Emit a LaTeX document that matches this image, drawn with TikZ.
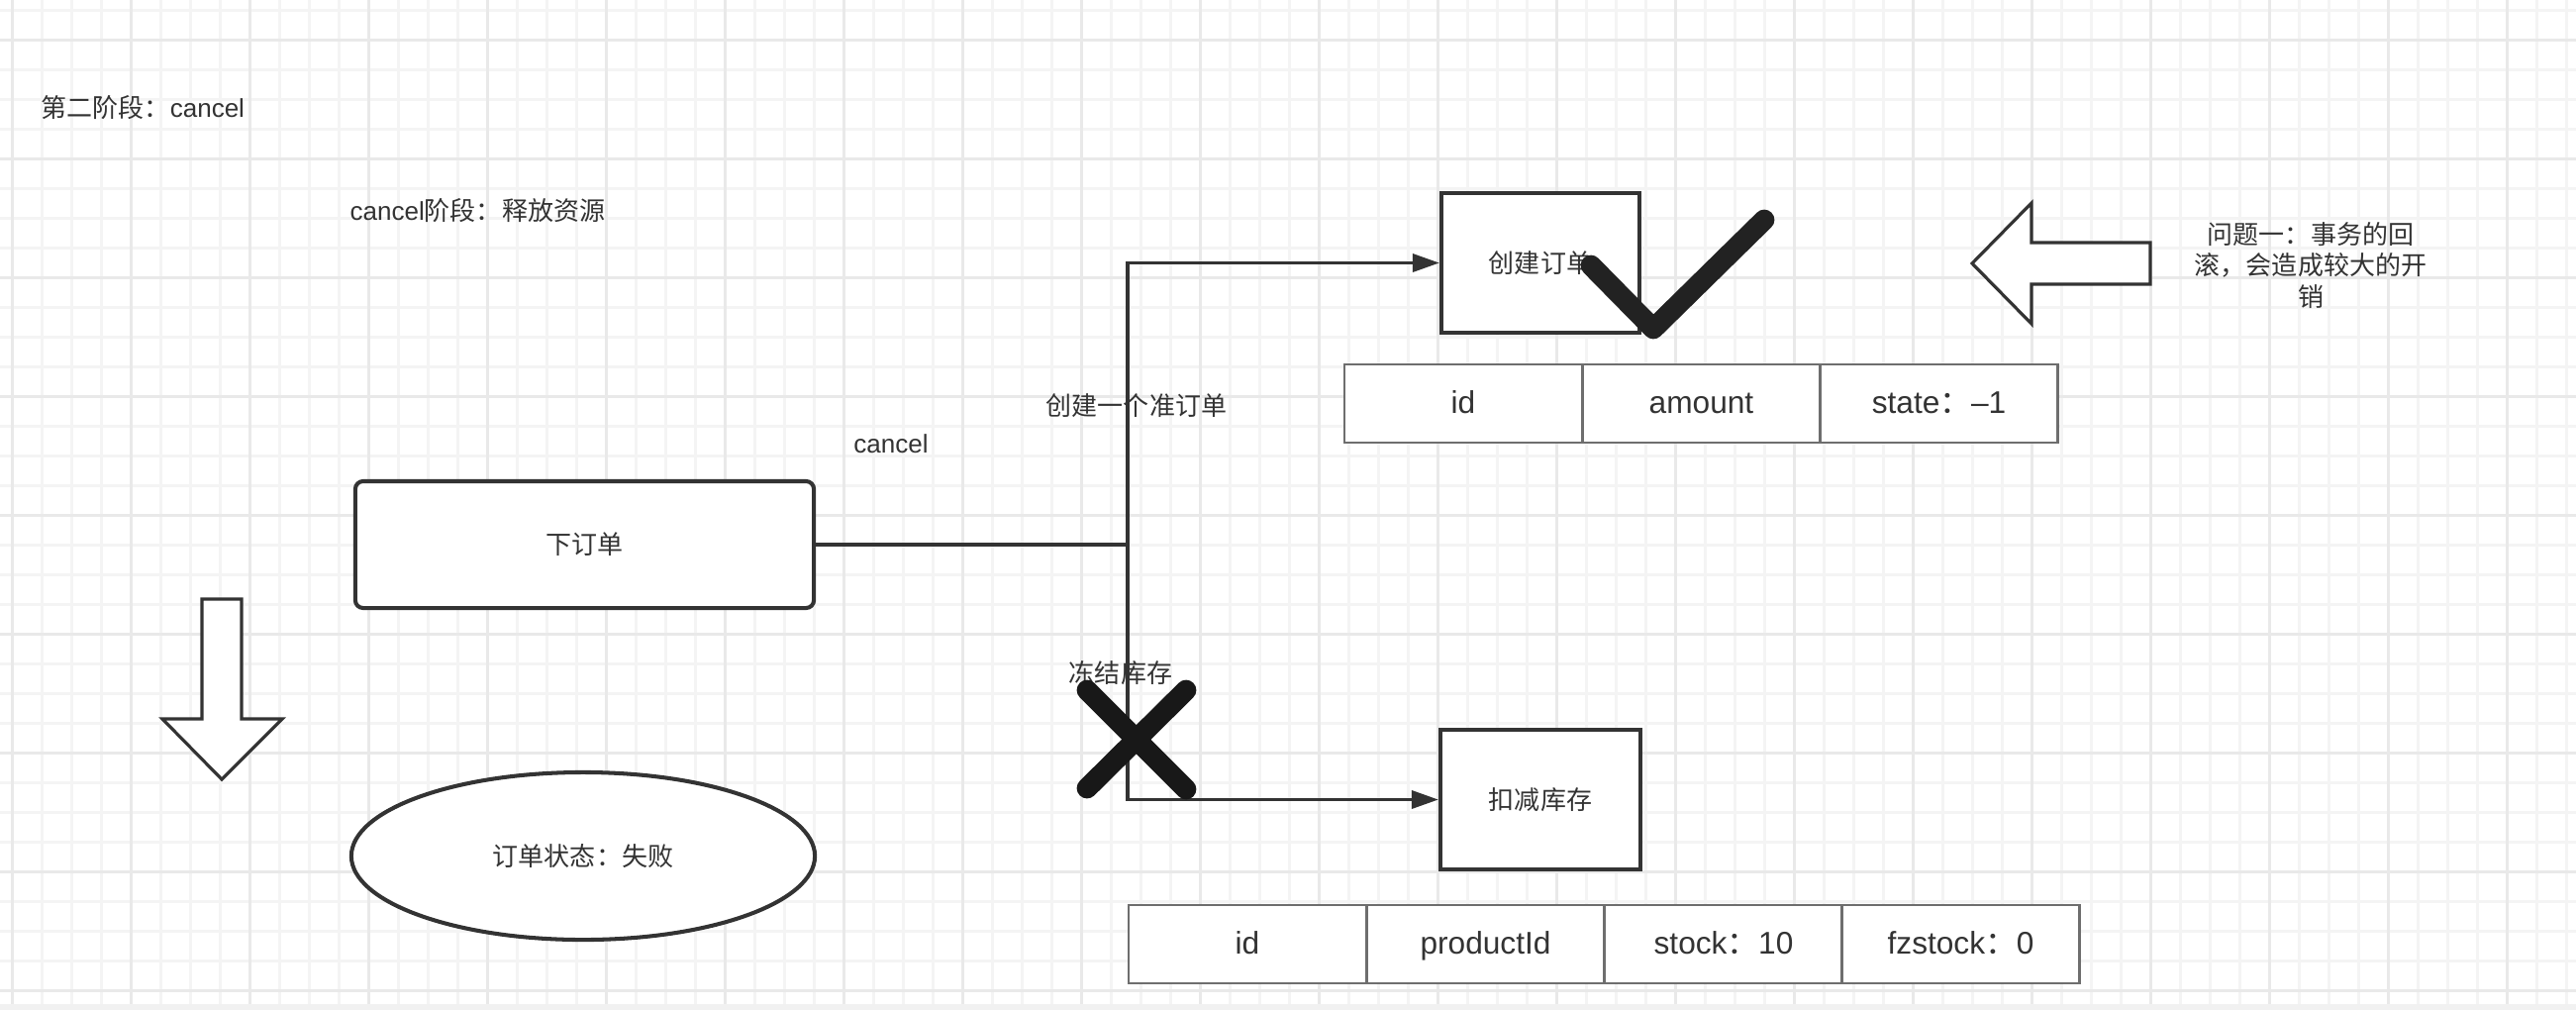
\documentclass[tikz,border=0pt]{standalone}
\usepackage{fontspec}
\setmainfont{Liberation Sans}
\newfontfamily\cjk{Noto Sans CJK SC}
\usetikzlibrary{arrows.meta,shapes.geometric}
\definecolor{ink}{HTML}{333333}
\definecolor{gridminor}{HTML}{F4F4F4}
\definecolor{gridmajor}{HTML}{E9E9E9}
\definecolor{cellline}{HTML}{6E6E6E}
\definecolor{markink}{HTML}{222222}
\definecolor{crossink}{HTML}{181818}
\definecolor{band}{HTML}{F1F1F1}
\tikzset{
  smalltext/.style={font=\fontsize{7.4}{9}\selectfont, text=ink, inner sep=0pt},
  procbox/.style={draw=ink, line width=1.15pt, fill=white, inner sep=0pt,
    font=\fontsize{7.4}{9}\selectfont, text=ink},
  tcell/.style={draw=cellline, line width=0.7pt, fill=white, minimum width=2.40cm,
    minimum height=0.79cm, inner sep=0pt, text height=0.74em, text depth=0.2em,
    font=\fontsize{9}{11}\selectfont, text=ink},
  conn/.style={draw=ink, line width=1pt},
  tip/.style={-{Triangle[length=0.27cm,width=0.18cm]}},
  bigarrow/.style={draw=ink, line width=0.9pt, fill=white, line join=miter},
  heavy/.style={line width=5.9pt, line cap=round, line join=round},
}
\begin{document}
\begin{tikzpicture}[x=0.01cm,y=-0.01cm]
\useasboundingbox (0,0) rectangle (2602,1020);
\fill[white] (0,0) rectangle (2602,1020);
% grid
\foreach \i in {0,...,86} {\draw[gridminor, line width=0.7pt] ({12.7+30*\i},0) -- ({12.7+30*\i},1014);}
\foreach \i in {0,...,33} {\draw[gridminor, line width=0.7pt] (0,{10.7+30*\i}) -- (2602,{10.7+30*\i});}
\foreach \i in {0,...,21} {\draw[gridmajor, line width=0.7pt] ({12.7+120*\i},0) -- ({12.7+120*\i},1014);}
\foreach \i in {0,...,8} {\draw[gridmajor, line width=0.7pt] (0,{40.7+120*\i}) -- (2602,{40.7+120*\i});}
\fill[band] (0,1014) rectangle (2602,1020);

% titles
\node[smalltext, anchor=west] (title) at (41,109) {{\cjk 第二阶段：}cancel};
\node[smalltext, anchor=west] (phase) at (353,213) {cancel{\cjk 阶段：释放资源}};

% main shapes
\node[procbox, rounded corners=0.08cm, minimum width=4.63cm, minimum height=1.28cm] (order) at (590.5,550) {\cjk 下订单};
\node[procbox, ellipse, minimum width=4.68cm, minimum height=1.69cm] (state) at (589,864.5) {\cjk 订单状态：失败};
\node[procbox, minimum width=2.00cm, minimum height=1.41cm] (create) at (1556,265.5) {\cjk 创建订单};
\node[procbox, minimum width=2.02cm, minimum height=1.41cm] (deduct) at (1556,807.5) {\cjk 扣减库存};

% tables
\node[tcell] (t1a) at (1478,407.5) {id};
\node[tcell] (t1b) at (1718.5,407.5) {amount};
\node[tcell] (t1c) at (1958.5,407.5) {state{\cjk ：}–1};
\node[tcell] (t2a) at (1260,953.5) {id};
\node[tcell] (t2b) at (1500.5,953.5) {productId};
\node[tcell] (t2c) at (1741,953.5) {stock{\cjk ：}10};
\node[tcell] (t2d) at (1980.5,953.5) {fzstock{\cjk ：}0};

% block arrows
\draw[bigarrow] (204,605) -- (244,605) -- (244,726) -- (285,726) -- (224,787) -- (164,726) -- (204,726) -- cycle;
\draw[bigarrow] (1992,266) -- (2052,205) -- (2052,245) -- (2172,245) -- (2172,287) -- (2052,287) -- (2052,327) -- cycle;

% labels
\node[smalltext] (lcancel) at (900,448) {cancel};
\node[smalltext] (lcreate) at (1148,410) {\cjk 创建一个准订单};
\node[smalltext] (lfreeze) at (1132,680) {\cjk 冻结库存};
\node[smalltext, align=center, font=\fontsize{7.4}{8.96}\selectfont\cjk] (issue) at (2334,268) {问题一：事务的回\\滚，会造成较大的开\\销};

% connectors
\coordinate (j) at (1139,550);
\draw[conn] (order.east) -- (j);
\draw[conn, tip] (j) |- (create.west);
\draw[conn, tip] (j) |- (deduct.west);

% marks
\draw[heavy, draw=markink] (1607,268) -- (1670,332) -- (1782,222);
\draw[heavy, draw=crossink] (1098,697) -- (1198,797);
\draw[heavy, draw=crossink] (1198,697) -- (1098,796);
\end{tikzpicture}
\end{document}
